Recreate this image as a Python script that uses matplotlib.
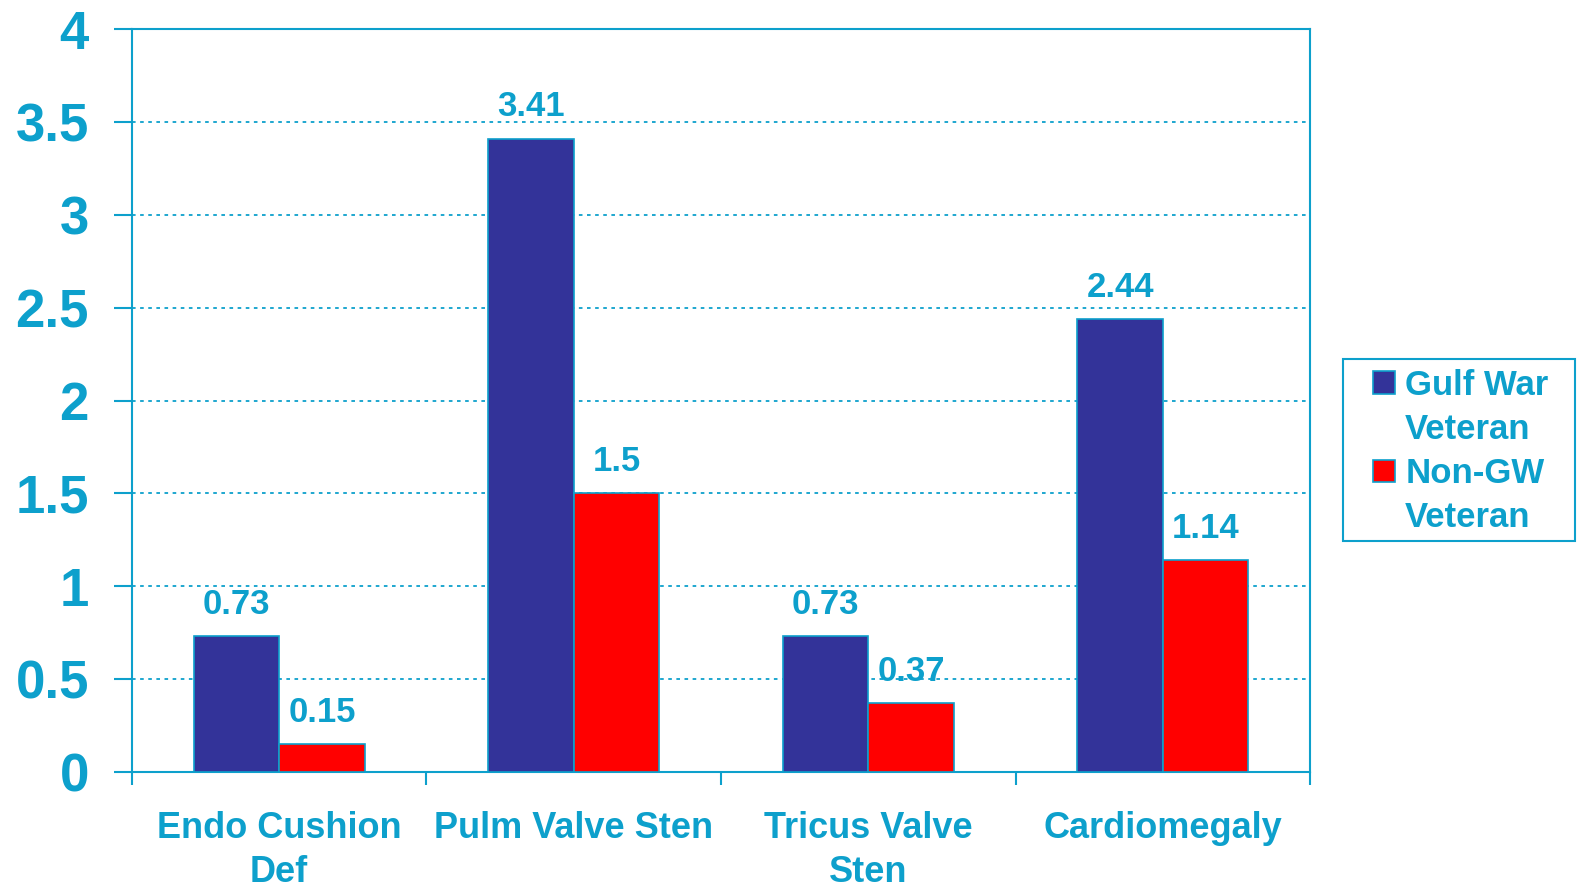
import matplotlib
matplotlib.use("Agg")
import matplotlib.pyplot as plt
from matplotlib.patches import Rectangle
import numpy as np

categories = ["Endo Cushion\nDef", "Pulm Valve Sten", "Tricus Valve\nSten", "Cardiomegaly"]
gulf_war = [0.73, 3.41, 0.73, 2.44]
non_gw = [0.15, 1.5, 0.37, 1.14]
series_names = [["Gulf War", "Veteran"], ["Non-GW", "Veteran"]]
y_ticks = [0, 0.5, 1, 1.5, 2, 2.5, 3, 3.5, 4]
y_labels = ["0", "0.5", "1", "1.5", "2", "2.5", "3", "3.5", "4"]

TEAL = "#0DA0CC"
NAVY = "#333399"
RED = "#FF0000"

plt.rcParams["font.family"] = ["Liberation Sans", "DejaVu Sans"]
plt.rcParams["font.weight"] = "bold"

fig = plt.figure(figsize=(15.77, 8.88), dpi=100)
ax = fig.add_axes([0.0837, 0.1306, 0.747, 0.8367])

x = np.arange(len(categories))
w = 0.29
b1 = ax.bar(x - w / 2, gulf_war, w, color=NAVY, edgecolor=TEAL, linewidth=1.2, zorder=3)
b2 = ax.bar(x + w / 2, non_gw, w, color=RED, edgecolor=TEAL, linewidth=1.2, zorder=3)

for bars, vals in [(b1, gulf_war), (b2, non_gw)]:
    for rect, v in zip(bars, vals):
        ax.annotate(f"{v:g}", (rect.get_x() + rect.get_width() / 2, v),
                    xytext=(0, 11), textcoords="offset points",
                    ha="center", va="bottom", color=TEAL,
                    fontsize=25, fontweight="bold", zorder=4)

ax.set_xlim(-0.5, len(categories) - 0.5)
ax.set_ylim(0, 4)
ax.set_yticks(y_ticks)
ax.set_yticklabels(y_labels, fontsize=38, fontweight="bold", color=TEAL)
ax.yaxis.grid(True, color=TEAL, linestyle=(0, (2, 2.5)), linewidth=1.3, zorder=0)

# category labels at centers, tick marks at boundaries
ax.set_xticks(x)
ax.set_xticklabels(categories, fontsize=26, fontweight="bold", color=TEAL,
                   linespacing=1.33)
ax.tick_params(axis="x", length=0, pad=28)
ax.set_xticks(np.arange(len(categories) + 1) - 0.5, minor=True)
ax.tick_params(axis="x", which="minor", length=9, width=1.5, color=TEAL, direction="out")
ax.tick_params(axis="y", length=13, width=1.5, color=TEAL, direction="out", pad=18)

for s in ax.spines.values():
    s.set_color(TEAL)
    s.set_linewidth(1.5)

# legend: swatch beside first line of each label, second line with no swatch
blank = Rectangle((0, 0), 1, 1, visible=False)
handles = [b1, blank, b2, blank]
labels = series_names[0] + series_names[1]
leg = fig.legend(handles, labels, loc="center left",
                 bbox_to_anchor=(0.8706, 0.4914), frameon=False,
                 handlelength=0.64, handleheight=0.64,
                 handletextpad=0.29, borderpad=0, borderaxespad=0,
                 labelspacing=0.32, prop={"weight": "bold", "size": 25})
for t in leg.get_texts():
    t.set_color(TEAL)
fig.add_artist(Rectangle((0.8516, 0.3908), 0.1471, 0.2049, transform=fig.transFigure,
                         fill=False, edgecolor=TEAL, linewidth=1.5))

fig.savefig("out.png", dpi=100)
